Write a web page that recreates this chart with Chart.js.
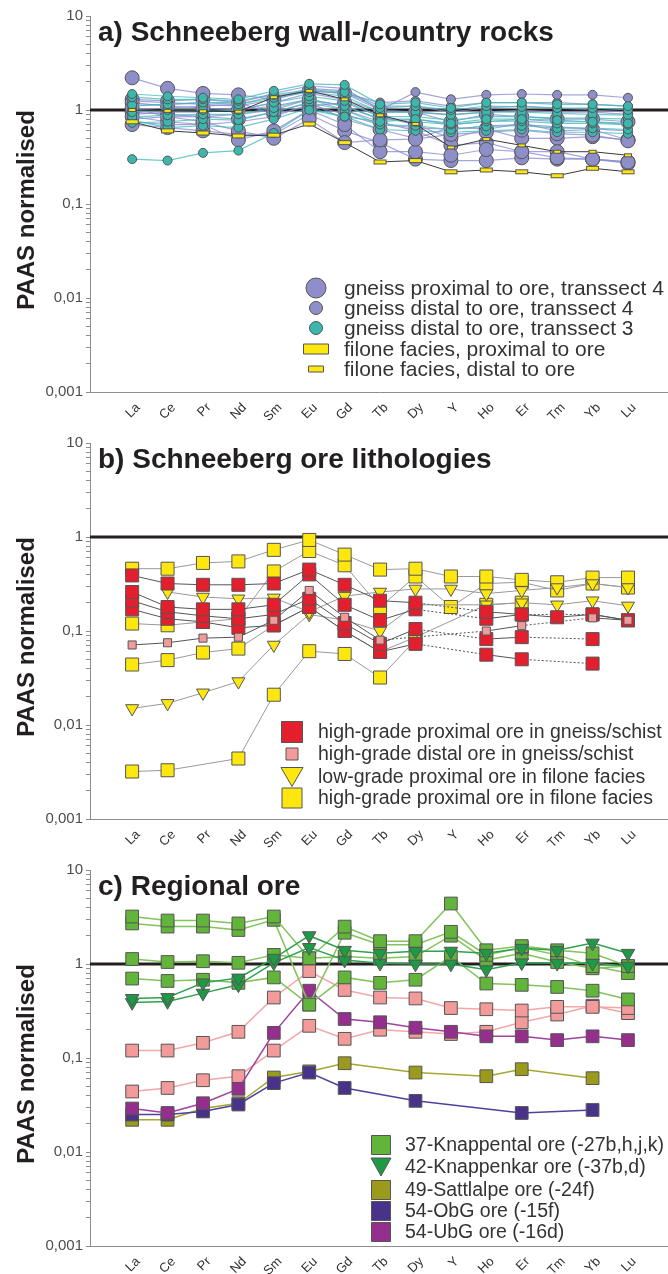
<!DOCTYPE html>
<html>
<head>
<meta charset="utf-8">
<title>PAAS normalised REE patterns</title>
<script src="https://cdn.jsdelivr.net/npm/chart.js@4.4.1/dist/chart.umd.min.js"></script>
<style>
  body { margin: 0; background: #fff; }
  canvas { display: block; }
</style>
</head>
<body>
<canvas id="chartA" width="668" height="427"></canvas>
<canvas id="chartB" width="668" height="427"></canvas>
<canvas id="chartC" width="668" height="420"></canvas>
<script>
// REE order on the x axis (Y sits between Dy and Ho)
const elements = ['La', 'Ce', 'Pr', 'Nd', 'Sm', 'Eu', 'Gd', 'Tb', 'Dy', 'Y', 'Ho', 'Er', 'Tm', 'Yb', 'Lu'];
const yTickText = { '10': '10', '1': '1', '0.1': '0,1', '0.01': '0,01', '0.001': '0,001' };
const decades = [0.001, 0.01, 0.1, 1];

// a) wall rocks
const gneissProxT4 = [
    [2.2, 1.7, 1.5, 1.45, 1.3, 1.6, 1.5, 1.0, 0.95, 0.75, 0.9, 0.85, 0.8, 0.8, 0.75],
    [1.05, 0.85, 0.75, 0.6, 0.5, 0.8, 0.45, 0.48, 0.49, 0.55, 0.58, 0.61, 0.56, 0.54, 0.47],
    [0.85, 0.75, 0.7, 0.48, 0.6, 1.0, 0.7, 0.36, 0.36, 0.33, 0.38, 0.36, 0.31, 0.3, 0.28],
    [0.7, 0.65, 0.6, 0.55, 0.55, 0.9, 0.6, 0.45, 0.3, 0.29, 0.29, 0.31, 0.3, 0.3, 0.27],
    [1.2, 1.1, 1.05, 1.0, 1.1, 1.3, 1.0, 0.75, 0.6, 0.42, 0.45, 0.36, 0.36, 0.3, 0.28],
    [0.95, 0.9, 0.85, 0.8, 0.95, 1.2, 0.8, 0.62, 0.5, 0.65, 0.63, 0.5, 0.5, 0.52, 0.48],
    [1.3, 1.25, 1.3, 1.2, 0.9, 1.1, 1.2, 0.85, 0.7, 0.5, 0.62, 0.72, 0.6, 0.62, 0.48]
];
const gneissDistT4 = [
    [1.1, 1.15, 1.2, 1.2, 1.5, 1.8, 1.7, 1.0, 1.55, 1.3, 1.45, 1.48, 1.45, 1.45, 1.35],
    [1.0, 1.05, 1.1, 1.15, 1.4, 1.6, 1.5, 1.2, 1.25, 1.1, 1.2, 1.2, 1.2, 1.15, 1.1],
    [0.9, 0.95, 0.95, 1.0, 1.2, 1.5, 1.3, 0.95, 0.95, 0.9, 0.95, 1.0, 0.95, 0.95, 0.9],
    [0.8, 0.85, 0.85, 0.9, 1.0, 1.3, 1.1, 0.8, 0.8, 0.7, 0.75, 0.8, 0.75, 0.75, 0.7],
    [1.25, 1.2, 1.15, 1.1, 1.3, 1.7, 1.6, 1.1, 1.1, 0.95, 1.05, 1.1, 1.05, 1.0, 0.95],
    [0.75, 0.7, 0.7, 0.75, 0.85, 1.15, 0.9, 0.7, 0.65, 0.62, 0.68, 0.7, 0.66, 0.63, 0.6]
];
const gneissDistT3 = [
    [0.3, 0.29, 0.35, 0.37, 0.57, 1.0, 0.85, 0.75, 0.8, 0.72, 0.8, 0.8, 0.78, 0.75, 0.72],
    [1.48, 1.4, 1.35, 1.3, 1.6, 1.9, 1.85, 1.15, 1.2, 1.05, 1.2, 1.2, 1.15, 1.15, 1.1],
    [1.37, 1.3, 1.3, 1.25, 1.45, 1.65, 1.55, 1.05, 1.1, 1.0, 1.1, 1.08, 1.05, 1.05, 1.0],
    [1.13, 1.15, 1.2, 1.15, 1.35, 1.55, 1.4, 0.95, 0.95, 0.88, 0.95, 0.95, 0.92, 0.9, 0.88],
    [0.95, 1.0, 1.0, 1.0, 1.2, 1.4, 1.25, 0.85, 0.85, 0.78, 0.85, 0.85, 0.82, 0.82, 0.8],
    [0.84, 0.88, 0.9, 0.9, 1.05, 1.3, 1.1, 0.8, 0.75, 0.7, 0.76, 0.76, 0.72, 0.72, 0.7],
    [0.73, 0.75, 0.8, 0.78, 0.95, 1.2, 1.0, 0.7, 0.68, 0.62, 0.67, 0.68, 0.64, 0.64, 0.62],
    [0.78, 0.65, 0.68, 0.65, 0.8, 1.05, 0.85, 0.62, 0.6, 0.58, 0.6, 0.62, 0.58, 0.58, 0.56]
];
const filoneProx = [0.75, 0.6, 0.57, 0.53, 0.54, 0.71, 0.45, 0.28, 0.29, 0.22, 0.23, 0.22, 0.2, 0.24, 0.22];
const filoneDist = [1.0, 0.98, 0.97, 0.96, 1.37, 1.6, 1.3, 0.88, 0.71, 0.4, 0.49, 0.42, 0.36, 0.36, 0.33];

// b) ore lithologies
const hgProxGneiss = [
    [0.39, 0.32, 0.31, 0.31, 0.32, 0.45, 0.31, 0.21, 0.2, null, 0.16, 0.15, 0.14, 0.15, 0.13],
    [0.26, 0.18, 0.17, 0.17, 0.19, 0.4, 0.19, 0.13, 0.17, null, 0.135, 0.15, null, 0.15, 0.13],
    [0.21, 0.16, 0.145, 0.135, 0.15, 0.22, 0.12, 0.073, 0.105, null, 0.082, 0.086, null, 0.082, null],
    [0.17, 0.135, 0.125, 0.108, 0.115, 0.18, 0.1, 0.06, 0.073, null, 0.056, 0.05, null, 0.045, null]
];
const hgDistGneiss = [0.071, 0.075, 0.084, 0.086, 0.13, 0.27, 0.14, 0.08, null, null, 0.1, 0.114, null, 0.138, 0.13];
const lgProxFilone = [
    [null, 0.26, 0.23, 0.22, 0.225, 0.16, 0.235, 0.26, 0.28, 0.28, 0.25, 0.27, 0.29, 0.32, 0.29],
    [0.015, 0.017, 0.022, 0.029, 0.071, 0.15, 0.13, 0.1, 0.19, null, 0.19, 0.2, 0.19, 0.21, 0.185]
];
const hgProxFilone = [
    [0.46, 0.46, 0.53, 0.55, 0.73, 0.93, 0.65, 0.45, 0.46, 0.38, 0.38, 0.35, 0.33, 0.37, 0.37],
    [0.12, 0.115, 0.125, 0.135, 0.43, 0.71, 0.5, 0.18, 0.38, 0.18, 0.32, 0.33, 0.27, 0.32, 0.29],
    [0.044, 0.049, 0.059, 0.065, 0.115, 0.18, 0.1, 0.06, 0.086, null, 0.19, 0.2, null, null, null],
    [0.0032, 0.0033, null, 0.0044, 0.021, 0.061, 0.057, 0.032, 0.08, null, null, null, null, null, null]
];

// c) regional ore
const knappental = [
    [3.2, 2.9, 2.9, 2.7, 3.2, 1.15, 2.5, 1.75, 1.75, 4.4, 1.4, 1.55, 1.4, 1.3, 0.95],
    [2.7, 2.5, 2.5, 2.3, 2.95, 0.37, 2.15, 1.6, 1.6, 2.2, 1.25, 1.5, 1.25, 0.95, 0.8],
    [1.13, 1.05, 1.07, 1.03, 1.25, 1.15, 1.2, 1.15, 1.2, 2.0, 1.1, 1.3, 1.05, 0.9, 0.95],
    [0.7, 0.66, 0.68, 0.63, 0.72, 0.37, 0.72, 0.63, 0.68, 1.2, 0.62, 0.6, 0.57, 0.52, 0.42]
];
const knappenkar = [
    [0.43, 0.44, 0.63, 0.71, 1.15, 2.0, 1.4, 1.3, 1.37, 1.37, 1.3, 1.47, 1.4, 1.67, 1.3],
    [0.39, 0.4, 0.49, 0.6, 1.03, 1.5, 1.1, 1.02, 1.0, 1.0, 0.87, 1.03, 1.02, 1.02, 0.95]
];
const regionalPink = [
    [0.12, 0.12, 0.145, 0.19, 0.44, 0.84, 0.53, 0.44, 0.43, 0.34, 0.33, 0.32, 0.35, 0.35, 0.34],
    [0.044, 0.048, 0.058, 0.064, 0.12, 0.22, 0.16, 0.2, 0.19, 0.18, 0.19, 0.24, 0.29, 0.36, 0.3]
];
const sattlalpe = [0.022, 0.022, 0.029, 0.033, 0.062, 0.072, 0.088, null, 0.07, null, 0.064, 0.076, null, 0.061, null];
const obgOre = [0.025, 0.025, 0.027, 0.032, 0.054, 0.07, 0.048, null, 0.035, null, null, 0.026, null, 0.028, null];
const ubgOre = [0.029, 0.026, 0.033, 0.047, 0.185, 0.52, 0.26, 0.24, 0.21, 0.19, 0.17, 0.17, 0.155, 0.17, 0.155];


const family = "'Liberation Sans', Arial, sans-serif";
Chart.defaults.font.family = family;

const EDGE = '#555555';
const LILAC = '#8e8ec8', TEAL = '#3bb7ae', YELLOW = '#fde70f';
const RED = '#e31e2d', PINK = '#f39a9a';
const GREEN = '#62b43a', DKGREEN = '#1e9a46', OLIVE = '#9a9a1c', INDIGO = '#48328a', MAGENTA = '#952f8d';

// little filled bars used as point markers for the filone facies
function barMarker(w, h) {
    const c = document.createElement('canvas');
    c.width = w + 2;
    c.height = h + 2;
    const g = c.getContext('2d');
    g.fillStyle = YELLOW;
    g.fillRect(1, 1, w, h);
    g.strokeStyle = EDGE;
    g.lineWidth = 1;
    g.strokeRect(1.5, 1.5, w - 1, h - 1);
    return c;
}

function series(label, values, st) {
    const ds = {
        label,
        data: values.map((v, i) => ({ x: i, y: v })),
        borderColor: st.line,
        borderWidth: st.lineWidth || 1,
        pointStyle: st.shape,
        pointRadius: st.radius,
        pointRotation: st.rotation || 0,
        pointBackgroundColor: st.fill,
        pointBorderColor: EDGE,
        pointBorderWidth: 1,
        spanGaps: true,
        tension: 0,
        fill: false
    };
    if (st.dashGaps) {
        ds.segment = { borderDash: ctx => (ctx.p0.skip || ctx.p1.skip) ? [2, 2] : undefined };
    }
    return ds;
}

function logAxis() {
    const values = [];
    decades.forEach(d => { for (let k = 1; k < 10; k++) values.push(k === 1 ? d : d * k); });
    values.push(10);
    return {
        type: 'logarithmic',
        min: 0.001,
        max: 10,
        afterBuildTicks: s => { s.ticks = values.map(v => ({ value: v })); },
        afterFit: s => { s.width = 90; },
        ticks: {
            autoSkip: false,
            callback: v => yTickText[String(v)] || '',
            font: { size: 15 },
            color: '#4d4d4d',
            padding: 3
        },
        grid: { drawOnChartArea: false, tickLength: 4, color: '#8c8c8c' },
        border: { color: '#8c8c8c' }
    };
}

function elementAxis(height) {
    return {
        type: 'linear',
        min: -1.19,
        max: 15.13,
        afterBuildTicks: s => { s.ticks = elements.map((e, i) => ({ value: i })); },
        afterFit: s => {
            s.height = height;
            s.paddingLeft = 0;
            s.paddingRight = 0;
        },
        ticks: {
            autoSkip: false,
            callback: v => elements[v],
            minRotation: 45,
            maxRotation: 45,
            labelOffset: 6,
            font: { size: 13 },
            color: '#333333',
            padding: 8
        },
        grid: { drawOnChartArea: false, drawTicks: false },
        border: { color: '#8c8c8c' }
    };
}

// ref line at 1, panel title, axis title and the in-plot legend
const decor = {
    id: 'decor',
    beforeDatasetsDraw(chart) {
        const { ctx, chartArea, scales } = chart;
        const py = scales.y.getPixelForValue(1);
        ctx.save();
        ctx.strokeStyle = '#231f20';
        ctx.lineWidth = 3;
        ctx.beginPath();
        ctx.moveTo(chartArea.left, py);
        ctx.lineTo(chart.width, py);
        ctx.stroke();
        ctx.restore();
    },
    afterDraw(chart, args, opts) {
        const { ctx, chartArea } = chart;
        ctx.save();
        ctx.fillStyle = '#231f20';
        ctx.font = 'bold 28px ' + family;
        ctx.textBaseline = 'alphabetic';
        ctx.fillText(opts.title, 98, 41);

        ctx.translate(27, (chartArea.top + chartArea.bottom) / 2 + 6);
        ctx.rotate(-Math.PI / 2);
        ctx.font = 'bold 24px ' + family;
        ctx.textAlign = 'center';
        ctx.textBaseline = 'middle';
        ctx.fillText('PAAS normalised', 0, 0);
        ctx.restore();

        ctx.save();
        ctx.font = opts.fontSize + 'px ' + family;
        ctx.textBaseline = 'middle';
        ctx.strokeStyle = EDGE;
        ctx.lineWidth = 1;
        opts.legend.forEach((item, i) => {
            const x = opts.markerX, y = opts.rows[i];
            ctx.fillStyle = item.fill;
            ctx.beginPath();
            if (item.shape === 'circle') {
                ctx.arc(x, y, item.w / 2, 0, Math.PI * 2);
            } else if (item.shape === 'triangle') {
                ctx.moveTo(x - item.w / 2, y - item.h / 2);
                ctx.lineTo(x + item.w / 2, y - item.h / 2);
                ctx.lineTo(x, y + item.h / 2);
                ctx.closePath();
            } else {
                const h = item.h || item.w;
                ctx.rect(x - item.w / 2, y - h / 2, item.w, h);
            }
            ctx.fill();
            ctx.stroke();
            ctx.fillStyle = '#333333';
            ctx.fillText(item.text, opts.textX, y + 1);
        });
        ctx.restore();
    }
};

function makeChart(id, datasets, xHeight, decorOpts) {
    return new Chart(document.getElementById(id), {
        type: 'line',
        data: { datasets },
        options: {
            responsive: false,
            animation: false,
            events: [],
            layout: { autoPadding: false, padding: { top: 16, left: 0, right: 0, bottom: 0 } },
            scales: { x: elementAxis(xHeight), y: logAxis() },
            plugins: { legend: { display: false }, tooltip: { enabled: false }, decor: decorOpts }
        },
        plugins: [decor]
    });
}

// panel a
const lilacLine = 'rgba(135, 135, 210, 0.75)';
const tealLine = 'rgba(60, 185, 180, 0.75)';
const dsA = [
    series('filone facies, distal to ore', filoneDist, { line: '#3a3a3a', shape: barMarker(8, 4), radius: 5, fill: YELLOW }),
    series('filone facies, proximal to ore', filoneProx, { line: '#3a3a3a', shape: barMarker(13, 5), radius: 5, fill: YELLOW }),
    ...gneissDistT3.map(v => series('gneiss distal to ore, transsect 3', v, { line: tealLine, lineWidth: 1.2, shape: 'circle', radius: 4.5, fill: TEAL })),
    ...gneissDistT4.map(v => series('gneiss distal to ore, transsect 4', v, { line: lilacLine, lineWidth: 1.2, shape: 'circle', radius: 4.5, fill: LILAC })),
    ...gneissProxT4.map(v => series('gneiss proximal to ore, transsect 4', v, { line: lilacLine, lineWidth: 1.2, shape: 'circle', radius: 7, fill: LILAC }))
];
makeChart('chartA', dsA, 35, {
    title: 'a) Schneeberg wall-/country rocks',
    markerX: 316, textX: 344, fontSize: 21, rows: [288, 308, 328, 349, 369],
    legend: [
        { text: 'gneiss proximal to ore, transsect 4', shape: 'circle', w: 20, fill: LILAC },
        { text: 'gneiss distal to ore, transsect 4', shape: 'circle', w: 13, fill: LILAC },
        { text: 'gneiss distal to ore, transsect 3', shape: 'circle', w: 13, fill: TEAL },
        { text: 'filone facies, proximal to ore', shape: 'rect', w: 25, h: 10, fill: YELLOW },
        { text: 'filone facies, distal to ore', shape: 'rect', w: 15, h: 6, fill: YELLOW }
    ]
});

// panel b
const dsB = [
    series('high-grade distal ore in gneiss/schist', hgDistGneiss, { line: '#555555', shape: 'rect', radius: 5.7, fill: PINK, dashGaps: true }),
    ...hgProxGneiss.map(v => series('high-grade proximal ore in gneiss/schist', v, { line: '#555555', shape: 'rect', radius: 9.2, fill: RED, dashGaps: true })),
    ...lgProxFilone.map(v => series('low-grade proximal ore in filone facies', v, { line: '#999999', shape: 'triangle', rotation: 180, radius: 7.5, fill: YELLOW })),
    ...hgProxFilone.map(v => series('high-grade proximal ore in filone facies', v, { line: '#999999', shape: 'rect', radius: 9.2, fill: YELLOW }))
];
makeChart('chartB', dsB, 35, {
    title: 'b) Schneeberg ore lithologies',
    markerX: 292, textX: 318, fontSize: 19.5, rows: [305, 327, 350, 371],
    legend: [
        { text: 'high-grade proximal ore in gneiss/schist', shape: 'rect', w: 21, fill: RED },
        { text: 'high-grade distal ore in gneiss/schist', shape: 'rect', w: 12, fill: PINK },
        { text: 'low-grade proximal ore in filone facies', shape: 'triangle', w: 22, h: 19, fill: YELLOW },
        { text: 'high-grade proximal ore in filone facies', shape: 'rect', w: 20, fill: YELLOW }
    ]
});

// panel c
const dsC = [
    ...knappenkar.map(v => series('42-Knappenkar ore (-37b,d)', v, { line: '#2ea04e', lineWidth: 1.5, shape: 'triangle', rotation: 180, radius: 7.8, fill: DKGREEN })),
    ...knappental.map(v => series('37-Knappental ore (-27b,h,j,k)', v, { line: '#80c45a', lineWidth: 1.5, shape: 'rect', radius: 9, fill: GREEN })),
    series('54-UbG ore (-16d)', ubgOre, { line: '#a040a0', lineWidth: 1.5, shape: 'rect', radius: 9, fill: MAGENTA }),
    series('54-ObG ore (-15f)', obgOre, { line: '#5040a0', lineWidth: 1.5, shape: 'rect', radius: 9, fill: INDIGO }),
    series('49-Sattlalpe ore (-24f)', sattlalpe, { line: '#a6a631', lineWidth: 1.5, shape: 'rect', radius: 9, fill: OLIVE }),
    ...regionalPink.map(v => series('ore', v, { line: '#f5a6a6', lineWidth: 1.5, shape: 'rect', radius: 9, fill: PINK }))
];
makeChart('chartC', dsC, 28, {
    title: 'c) Regional ore',
    markerX: 381, textX: 405, fontSize: 19.5, rows: [291, 313, 336, 357, 378],
    legend: [
        { text: '37-Knappental ore (-27b,h,j,k)', shape: 'rect', w: 19, fill: GREEN },
        { text: '42-Knappenkar ore (-37b,d)', shape: 'triangle', w: 20, h: 18, fill: DKGREEN },
        { text: '49-Sattlalpe ore (-24f)', shape: 'rect', w: 19, fill: OLIVE },
        { text: '54-ObG ore (-15f)', shape: 'rect', w: 19, fill: INDIGO },
        { text: '54-UbG ore (-16d)', shape: 'rect', w: 19, fill: MAGENTA }
    ]
});
</script>
</body>
</html>
